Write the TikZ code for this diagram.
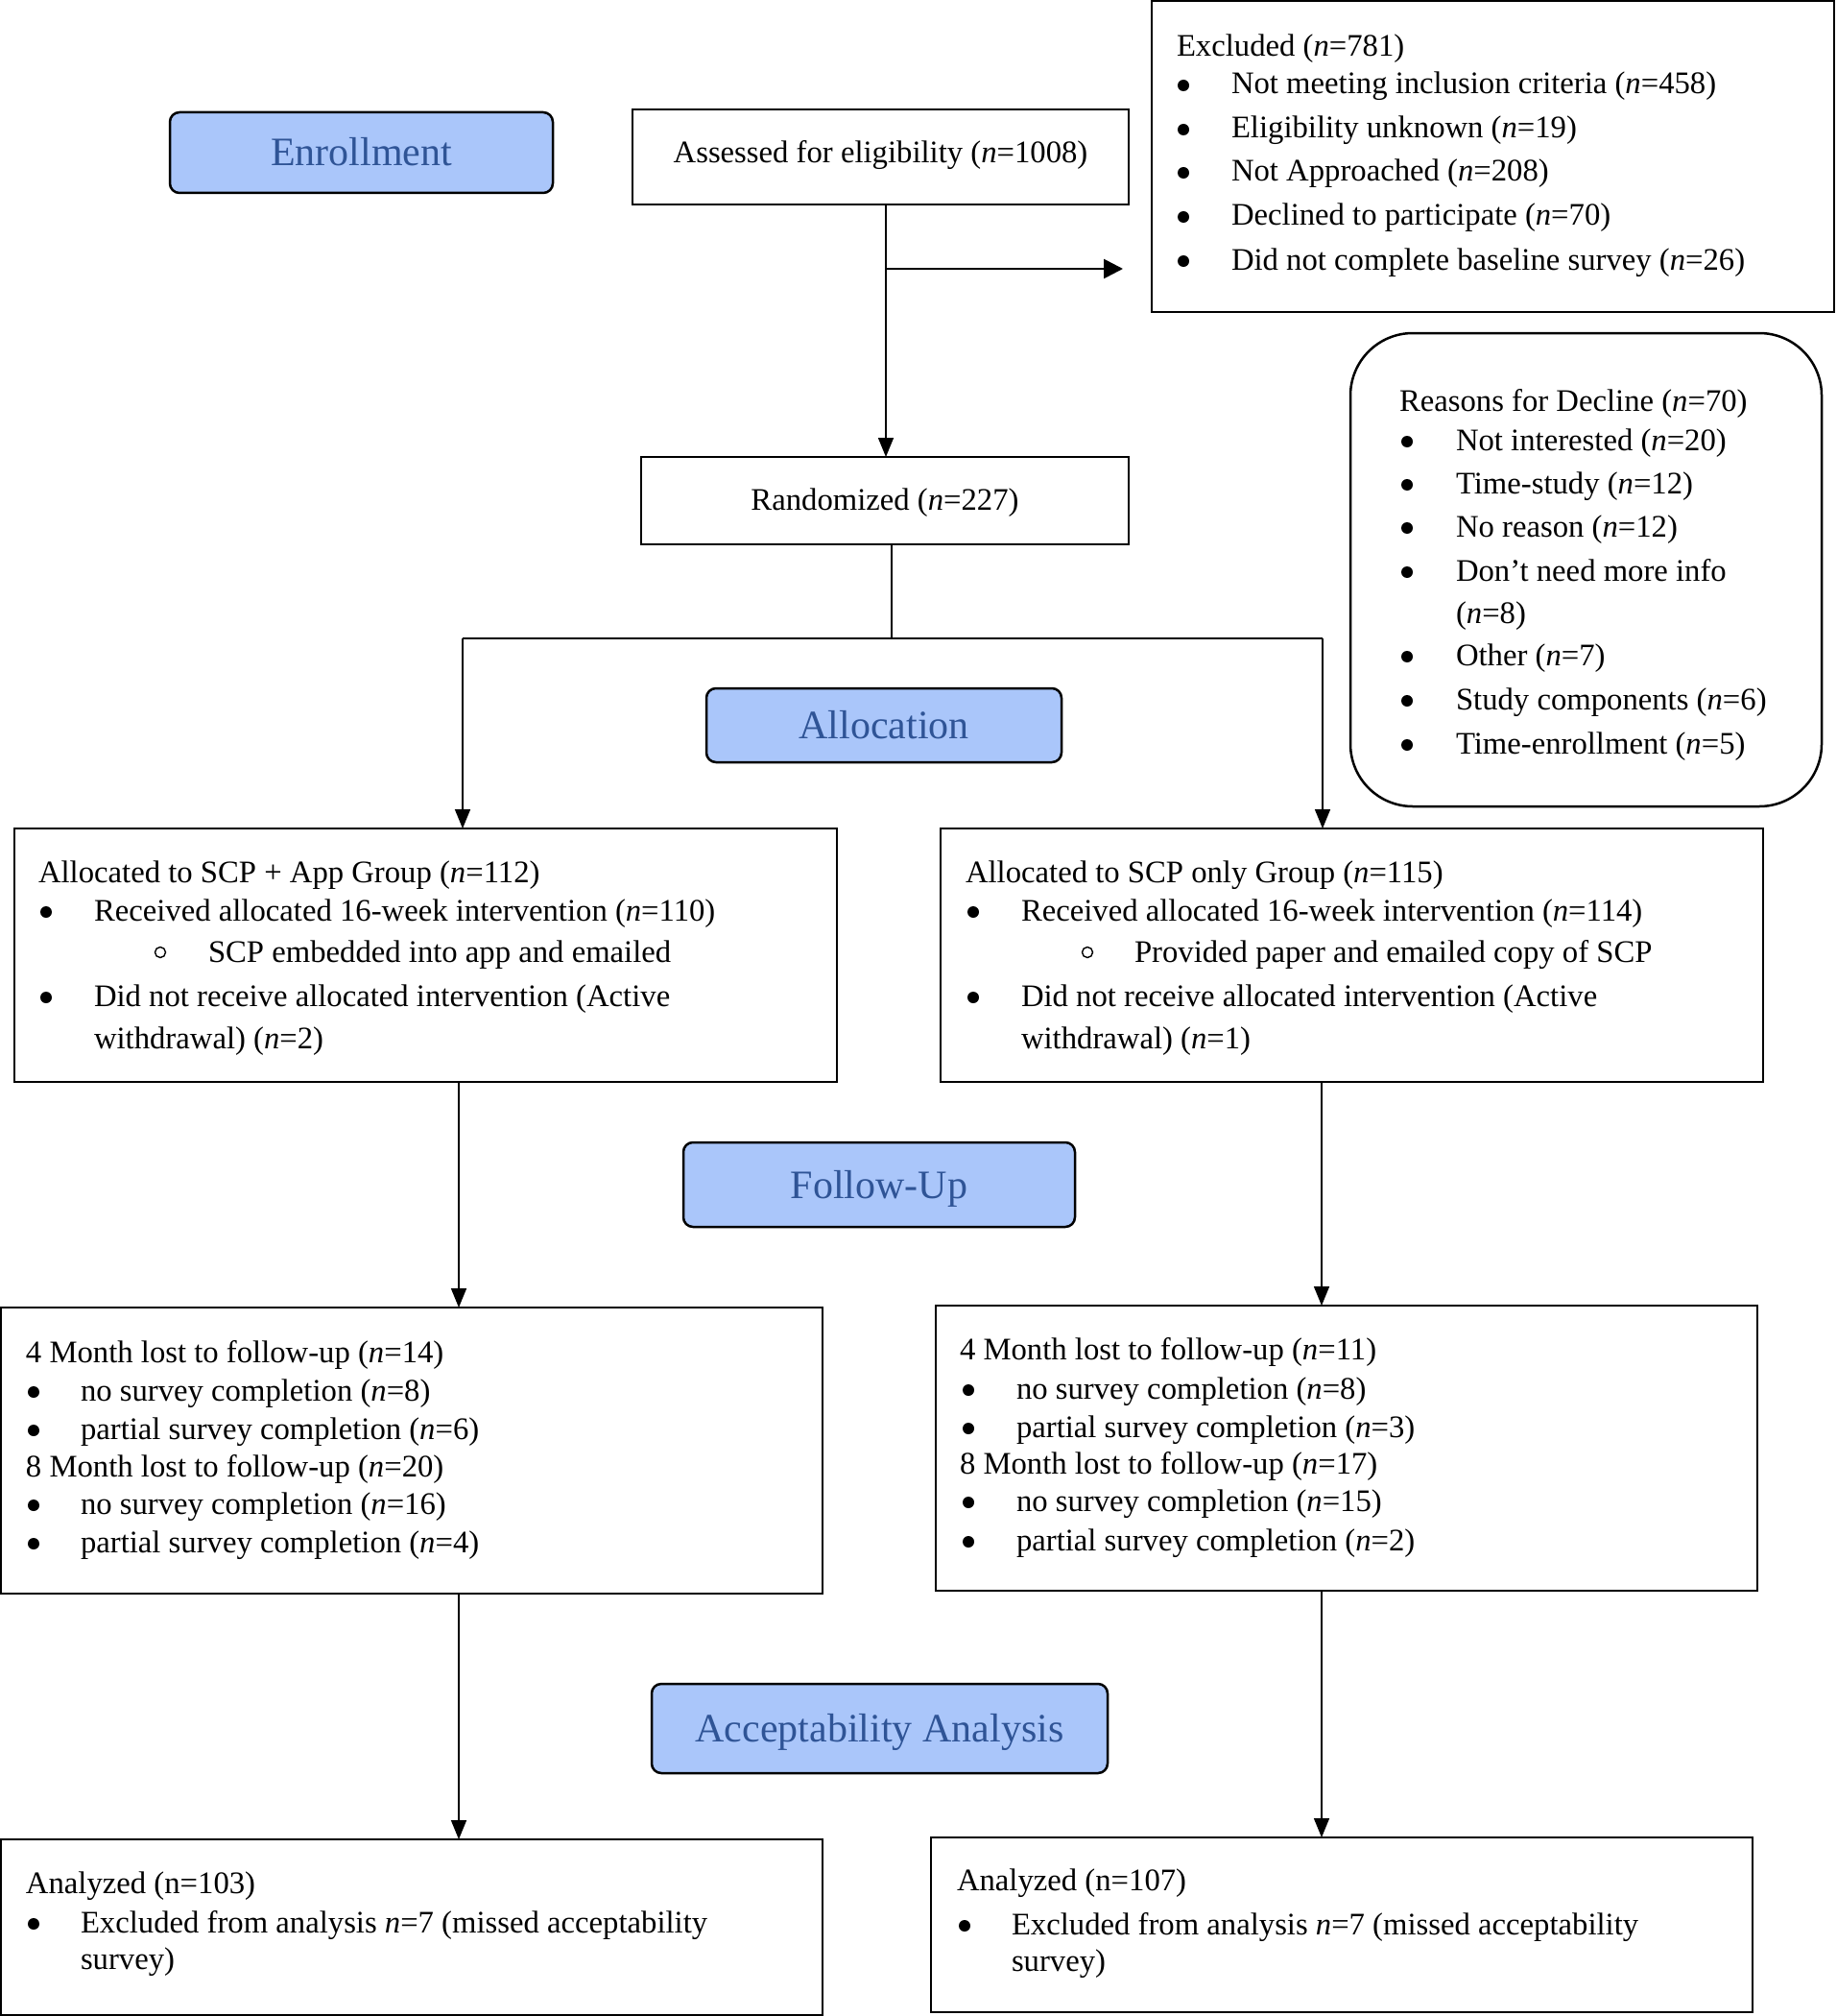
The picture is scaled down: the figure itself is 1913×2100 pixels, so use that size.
\documentclass[tikz,border=0pt]{standalone}
\usepackage{fontspec}
\setmainfont{Liberation Serif}
\usetikzlibrary{arrows.meta}
\definecolor{labfill}{RGB}{170,198,250}
\definecolor{labtext}{RGB}{47,84,150}
\newcommand{\bodyfont}{\fontsize{32.7}{40}\selectfont}
\newcommand{\labfont}{\fontsize{42}{50}\selectfont}
\newcommand{\ital}{\textit{n}}
% text line: name, x, baseline y, text
\newcommand{\tline}[4]{\node[txt] (#1) at (#2,#3) {#4};}
% bullet item: name, bullet x, text x, baseline y, text
\newcommand{\bitem}[5]{\node[dot] (#1b) at ([yshift=9pt]#2,#4) {}; \node[txt] (#1) at (#3,#4) {#5};}
% sub item (open circle): name, circle x, text x, baseline y, text
\newcommand{\sitem}[5]{\node[odot] (#1b) at ([yshift=10pt]#2,#4) {}; \node[txt] (#1) at (#3,#4) {#5};}
\tikzset{
  box/.style={draw=black, line width=2.5pt, rectangle, inner sep=0pt, outer sep=0pt},
  roundbox/.style={draw=black, line width=2.5pt, rectangle, rounded corners=65pt, inner sep=0pt, outer sep=0pt},
  labbox/.style={draw=black, line width=2.5pt, rectangle, rounded corners=10pt, fill=labfill, text=labtext, font=\labfont, inner sep=0pt, outer sep=0pt, text height=28pt, text depth=0pt},
  txt/.style={anchor=base west, inner sep=0pt, outer sep=0pt, font=\bodyfont},
  bul/.style={anchor=base, inner sep=0pt, outer sep=0pt, font=\bodyfont},
  dot/.style={circle, fill=black, inner sep=0pt, outer sep=0pt, minimum size=12pt},
  odot/.style={circle, draw=black, line width=1.4pt, inner sep=0pt, outer sep=0pt, minimum size=11pt},
  conn/.style={draw=black, line width=1.6pt},
  thickconn/.style={draw=black, line width=2.6pt},
  arr/.style={-{Triangle[length=20pt,width=16pt]}},
  bigarr/.style={-{Triangle[length=20pt,width=20pt]}}
}
\begin{document}
\begin{tikzpicture}[x=1pt,y=-1pt]
\useasboundingbox[fill=white] (0,0) rectangle (1913,2100);

% ---- label boxes
\node[labbox, minimum width=399pt, minimum height=84pt] (enroll) at (376.5,159) {Enrollment};
\node[labbox, minimum width=370pt, minimum height=77pt] (alloc) at (921,755.5) {Allocation};
\node[labbox, minimum width=408pt, minimum height=88pt] (follow) at (916,1234) {Follow-Up};
\node[labbox, minimum width=475pt, minimum height=93pt] (accept) at (916.5,1800.5) {Acceptability Analysis};

% ---- main boxes
\node[box, minimum width=517pt, minimum height=99pt] (assess) at (917.5,163.5) {};
\node[box, minimum width=711pt, minimum height=324pt] (excl) at (1555.5,163) {};
\node[box, minimum width=508pt, minimum height=91pt] (rand) at (922,521.5) {};
\node[roundbox, minimum width=491pt, minimum height=493pt] (reasons) at (1652.5,593.5) {};
\node[box, minimum width=857pt, minimum height=264pt] (allocL) at (443.5,995) {};
\node[box, minimum width=857pt, minimum height=264pt] (allocR) at (1408.5,995) {};
\node[box, minimum width=856pt, minimum height=298pt] (fuL) at (429,1511) {};
\node[box, minimum width=856pt, minimum height=297pt] (fuR) at (1403,1508.5) {};
\node[box, minimum width=856pt, minimum height=183pt] (anL) at (429,2007.5) {};
\node[box, minimum width=856pt, minimum height=182pt] (anR) at (1398,2005) {};

% ---- texts: assessed / randomized
\node[bul] (assessT) at (917.5,170) {Assessed for eligibility (\ital=1008)};
\node[bul] (randT) at (922,531) {Randomized (\ital=227)};

% ---- excluded
\tline{exT}{1226}{59}{Excluded (\ital=781)}
\bitem{ex1}{1233}{1283}{98}{Not meeting inclusion criteria (\ital=458)}
\bitem{ex2}{1233}{1283}{144}{Eligibility unknown (\ital=19)}
\bitem{ex3}{1233}{1283}{189}{Not Approached (\ital=208)}
\bitem{ex4}{1233}{1283}{235}{Declined to participate (\ital=70)}
\bitem{ex5}{1233}{1283}{281}{Did not complete baseline survey (\ital=26)}

% ---- reasons
\tline{reT}{1458}{428}{Reasons for Decline (\ital=70)}
\bitem{re1}{1466}{1517}{469}{Not interested (\ital=20)}
\bitem{re2}{1466}{1517}{514}{Time-study (\ital=12)}
\bitem{re3}{1466}{1517}{559}{No reason (\ital=12)}
\bitem{re4}{1466}{1517}{605}{Don’t need more info}
\tline{re4b}{1517}{649}{(\ital=8)}
\bitem{re5}{1466}{1517}{693}{Other (\ital=7)}
\bitem{re6}{1466}{1517}{739}{Study components (\ital=6)}
\bitem{re7}{1466}{1517}{785}{Time-enrollment (\ital=5)}

% ---- allocation left
\tline{alT}{40}{919}{Allocated to SCP + App Group (\ital=112)}
\bitem{al1}{48}{98}{959}{Received allocated 16-week intervention (\ital=110)}
\sitem{al2}{167}{217}{1002}{SCP embedded into app and emailed}
\bitem{al3}{48}{98}{1048}{Did not receive allocated intervention (Active}
\tline{al3b}{98}{1092}{withdrawal) (\ital=2)}

% ---- allocation right
\tline{arT}{1006}{919}{Allocated to SCP only Group (\ital=115)}
\bitem{ar1}{1014}{1064}{959}{Received allocated 16-week intervention (\ital=114)}
\sitem{ar2}{1133}{1182}{1002}{Provided paper and emailed copy of SCP}
\bitem{ar3}{1014}{1064}{1048}{Did not receive allocated intervention (Active}
\tline{ar3b}{1064}{1092}{withdrawal) (\ital=1)}

% ---- follow-up left
\tline{flT}{27}{1419}{4 Month lost to follow-up (\ital=14)}
\bitem{fl1}{35}{84}{1459}{no survey completion (\ital=8)}
\bitem{fl2}{35}{84}{1499}{partial survey completion (\ital=6)}
\tline{flU}{27}{1538}{8 Month lost to follow-up (\ital=20)}
\bitem{fl3}{35}{84}{1577}{no survey completion (\ital=16)}
\bitem{fl4}{35}{84}{1617}{partial survey completion (\ital=4)}

% ---- follow-up right
\tline{frT}{1000}{1416}{4 Month lost to follow-up (\ital=11)}
\bitem{fr1}{1009}{1059}{1457}{no survey completion (\ital=8)}
\bitem{fr2}{1009}{1059}{1497}{partial survey completion (\ital=3)}
\tline{frU}{1000}{1535}{8 Month lost to follow-up (\ital=17)}
\bitem{fr3}{1009}{1059}{1574}{no survey completion (\ital=15)}
\bitem{fr4}{1009}{1059}{1615}{partial survey completion (\ital=2)}

% ---- analyzed left
\tline{nlT}{27}{1972}{Analyzed (n=103)}
\bitem{nl1}{35}{84}{2013}{Excluded from analysis \ital=7 (missed acceptability}
\tline{nl1b}{84}{2051}{survey)}

% ---- analyzed right
\tline{nrT}{997}{1969}{Analyzed (n=107)}
\bitem{nr1}{1005}{1054}{2015}{Excluded from analysis \ital=7 (missed acceptability}
\tline{nr1b}{1054}{2053}{survey)}

% ---- connectors
\coordinate (vA) at (923,0);
\draw[conn,arr] (assess.south -| vA) -- (rand.north -| vA);
\coordinate (exBr) at (923,280);
\coordinate (exTip) at (1170,280);
\draw[thickconn,bigarr] (exBr) -- (exTip);

\coordinate (sp) at (929,665);
\coordinate (spL) at (482,665);
\coordinate (spR) at (1378,665);
\draw[conn] (rand.south -| sp) -- (sp);
\draw[thickconn] (spL) -- (spR);
\draw[conn,arr] (spL) -- (spL |- allocL.north);
\draw[conn,arr] (spR) -- (spR |- allocR.north);

\coordinate (cL) at (478,0);
\coordinate (cR) at (1377,0);
\draw[conn,arr] (allocL.south -| cL) -- (fuL.north -| cL);
\draw[conn,arr] (allocR.south -| cR) -- (fuR.north -| cR);
\draw[conn,arr] (fuL.south -| cL) -- (anL.north -| cL);
\draw[conn,arr] (fuR.south -| cR) -- (anR.north -| cR);
\end{tikzpicture}
\end{document}
